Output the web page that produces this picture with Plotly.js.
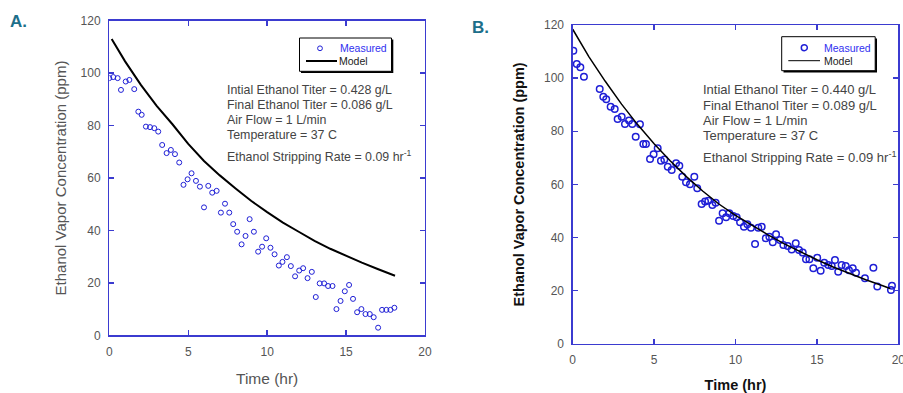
<!DOCTYPE html>
<html>
<head>
<meta charset="utf-8">
<script src="https://cdn.plot.ly/plotly-3.0.1.min.js"></script>
<style>html,body{margin:0;padding:0;background:#fff;}#chart{width:903px;height:393px;}</style>
</head>
<body>
<div id="chart"></div>
<script>
// ---- Panel A data ----
var timeA = [0, 0.25, 0.53, 0.74, 1.04, 1.27, 1.58, 1.84, 2.05, 2.32, 2.58, 2.85, 3.10, 3.35, 3.63, 3.90, 4.16, 4.43, 4.70, 4.96, 5.21, 5.49, 5.74, 6.00, 6.27, 6.52, 6.80, 7.07, 7.33, 7.60, 7.85, 8.10, 8.38, 8.63, 8.89, 9.16, 9.43, 9.68, 9.94, 10.21, 10.47, 10.74, 10.97, 11.25, 11.50, 11.77, 12.03, 12.28, 12.56, 12.83, 13.08, 13.33, 13.61, 13.86, 14.14, 14.39, 14.65, 14.92, 15.19, 15.44, 15.70, 15.97, 16.23, 16.50, 16.75, 17.03, 17.28, 17.55, 17.81, 18.06];
var measuredA = [98.1, 98.5, 98.1, 93.6, 96.8, 97.4, 93.9, 85.3, 84.1, 79.6, 79.4, 79.0, 77.7, 72.6, 69.5, 70.7, 69.1, 65.9, 57.4, 59.5, 61.8, 58.9, 56.7, 48.8, 57.0, 54.4, 55.1, 46.8, 50.2, 46.8, 42.4, 39.5, 34.7, 37.9, 44.3, 39.5, 31.9, 33.8, 37.0, 33.4, 30.9, 26.6, 28.0, 29.8, 26.4, 22.5, 24.7, 25.6, 21.8, 24.2, 14.6, 19.8, 19.8, 18.8, 18.8, 10.0, 13.1, 16.8, 19.2, 13.9, 8.8, 10.0, 8.1, 8.1, 6.9, 2.9, 9.7, 9.7, 9.7, 10.5];
var modelTimeA = [0.15, 1, 2, 3, 4, 5, 6, 7, 8, 9, 10, 11, 12, 13, 14, 15, 16, 17, 18.1];
var modelA = [113, 104.5, 95.5, 87.5, 80.5, 73, 66.5, 61, 56, 51.2, 47, 43, 39.5, 36, 33, 30.2, 27.7, 25.3, 22.7];

// ---- Panel B data ----
var timeB = [0.04, 0.25, 0.47, 0.69, 1.66, 1.88, 2.06, 2.33, 2.58, 2.76, 3.01, 3.21, 3.46, 3.66, 3.87, 4.13, 4.34, 4.50, 4.75, 4.97, 5.22, 5.42, 5.63, 5.84, 6.08, 6.35, 6.55, 6.73, 6.96, 7.20, 7.47, 7.65, 7.92, 8.13, 8.33, 8.58, 8.78, 8.99, 9.21, 9.42, 9.62, 9.86, 10.07, 10.28, 10.52, 10.73, 10.95, 11.20, 11.40, 11.61, 11.86, 12.08, 12.29, 12.49, 12.73, 12.94, 13.21, 13.45, 13.70, 13.90, 14.13, 14.33, 14.54, 14.78, 15.02, 15.23, 15.45, 15.70, 15.91, 16.11, 16.31, 16.52, 16.77, 16.97, 17.20, 17.40, 17.95, 18.47, 18.71, 19.55, 19.61];
var measuredB = [110.3, 105.3, 104.1, 100.5, 95.9, 93.0, 92.0, 89.2, 88.4, 84.6, 85.5, 82.7, 84.0, 82.7, 77.9, 82.6, 75.2, 75.2, 69.5, 71.3, 73.6, 68.9, 69.4, 66.6, 65.4, 67.9, 67.0, 62.9, 60.8, 60.0, 62.9, 58.5, 52.6, 53.5, 53.8, 52.2, 53.1, 46.3, 49.1, 47.6, 49.1, 48.1, 47.6, 45.7, 44.0, 45.0, 43.7, 37.5, 43.7, 44.0, 39.7, 40.3, 38.2, 41.2, 39.0, 37.2, 36.8, 35.5, 37.8, 35.3, 34.3, 31.8, 31.8, 28.4, 32.4, 27.5, 30.5, 29.6, 29.3, 31.5, 27.1, 29.6, 29.3, 27.7, 28.4, 26.7, 24.6, 28.6, 21.5, 20.2, 21.8];
var modelTimeB = [0, 1, 2, 3, 4, 5, 6, 7, 8, 9, 10, 11, 12, 13, 14, 15, 16, 17, 18, 19, 19.5];
var modelB = [118.4, 108, 98.8, 90.2, 82.4, 75.3, 68.8, 62.8, 57.4, 52.5, 48.3, 44.5, 41, 37.6, 34.5, 31.6, 28.9, 26.4, 24.1, 21.9, 20.8];

// ---- text ----
var infoA = ["Intial Ethanol Titer = 0.428 g/L", "Final Ethanol Titer = 0.086 g/L", "Air Flow = 1 L/min", "Temperature = 37 C", "Ethanol Stripping Rate = 0.09 hr<sup>-1</sup>"];
var infoB = ["Intial Ethanol Titer = 0.440 g/L", "Final Ethanol Titer = 0.089 g/L", "Air Flow = 1 L/min", "Temperature = 37 C", "Ethanol Stripping Rate = 0.09 hr<sup>-1</sup>"];
var xTickVals = [0, 5, 10, 15, 20];
var yTickVals = [0, 20, 40, 60, 80, 100, 120];
var xTitle = "Time (hr)";
var yTitle = "Ethanol Vapor Concentration (ppm)";

var W = 903, H = 393;
function X(px) { return px / W; }
function Y(py) { return 1 - py / H; }

var FONT = "Arial, 'Liberation Sans', sans-serif";
var AX = "#3b3bd0";
var MB = "#1f1fd6";

var traces = [
  {x: timeA, y: measuredA, type: 'scatter', mode: 'markers', xaxis: 'x', yaxis: 'y', name: 'Measured',
   marker: {symbol: 'circle-open', size: 5, color: MB, line: {width: 1, color: MB}}, showlegend: false},
  {x: modelTimeA, y: modelA, type: 'scatter', mode: 'lines', xaxis: 'x', yaxis: 'y', name: 'Model',
   line: {color: '#000', width: 2}, showlegend: false},
  {x: timeB, y: measuredB, type: 'scatter', mode: 'markers', xaxis: 'x2', yaxis: 'y2', name: 'Measured',
   marker: {symbol: 'circle-open', size: 6.5, color: MB, line: {width: 1.5, color: MB}}, showlegend: false},
  {x: modelTimeB, y: modelB, type: 'scatter', mode: 'lines', xaxis: 'x2', yaxis: 'y2', name: 'Model',
   line: {color: '#000', width: 1.5}, showlegend: false}
];

function axisCommon(extra) {
  var a = {
    showline: true, linecolor: AX, linewidth: 1.3, mirror: 'ticks',
    ticks: 'inside', ticklen: 5, tickcolor: AX, tickwidth: 1.3,
    showgrid: false, zeroline: false, fixedrange: true,
    tickfont: {family: FONT, size: 12, color: '#555'},
    ticklabelstandoff: 5, ticklabeloverflow: 'allow'
  };
  for (var k in extra) a[k] = extra[k];
  return a;
}

var annotations = [];
function addText(txt, px, py, size, color, bold) {
  annotations.push({text: bold ? '<b>' + txt + '</b>' : txt, x: X(px), y: Y(py), xref: 'paper', yref: 'paper',
    xanchor: 'left', yanchor: 'middle', showarrow: false, font: {family: FONT, size: size, color: color}});
}
addText('A.', 8, 21.5, 17, '#1d6f8a', true);
addText('B.', 470, 27.5, 17, '#1d6f8a', true);
var yA = [90.3, 105.3, 120.3, 135.3, 155.7];
for (var i = 0; i < infoA.length; i++) addText(infoA[i], 225, yA[i], 12.4, '#444', false);
var yB = [90, 105.5, 120.5, 135.7, 156.7];
for (var j = 0; j < infoB.length; j++) addText(infoB[j], 700.5, yB[j], 13, '#444', false);
// legend texts
addText('Measured', 338, 48.3, 10.5, '#3030f0', false);
addText('Model', 337, 61, 10.5, '#222', false);
addText('Measured', 822, 47.7, 10.5, '#3030f0', false);
addText('Model', 822, 60.7, 10.5, '#222', false);

function rect(x0, y0, x1, y1, fill, lw) {
  return {type: 'rect', xref: 'paper', yref: 'paper', x0: X(x0), x1: X(x1), y0: Y(y1), y1: Y(y0),
    fillcolor: fill, line: {color: '#000', width: lw}, layer: 'above'};
}
var shapes = [
  rect(301, 39.5, 393.3, 73, '#000', 0),
  rect(299.5, 38, 391.5, 71.3, '#fff', 1),
  {type: 'circle', xref: 'paper', yref: 'paper', x0: X(317.6), x1: X(322.4), y0: Y(50.7), y1: Y(45.9), line: {color: MB, width: 1}, layer: 'above'},
  {type: 'line', xref: 'paper', yref: 'paper', x0: X(306), x1: X(337), y0: Y(61), y1: Y(61), line: {color: '#000', width: 2}, layer: 'above'},
  rect(783.5, 38.5, 877, 72.5, '#000', 0),
  rect(781.7, 36.7, 875.2, 70.7, '#fff', 1),
  {type: 'circle', xref: 'paper', yref: 'paper', x0: X(801.3), x1: X(807.3), y0: Y(50.7), y1: Y(44.7), line: {color: MB, width: 1.5}, layer: 'above'},
  {type: 'line', xref: 'paper', yref: 'paper', x0: X(788.3), x1: X(820), y0: Y(60.7), y1: Y(60.7), line: {color: '#000', width: 1}, layer: 'above'}
];

var layout = {
  width: W, height: H,
  margin: {l: 0, r: 0, t: 0, b: 0},
  paper_bgcolor: '#fff', plot_bgcolor: '#fff',
  showlegend: false,
  font: {family: FONT},
  xaxis: axisCommon({domain: [X(109.3), X(425)], range: [0, 20], tickvals: xTickVals, anchor: 'y',
    title: {text: xTitle, font: {family: FONT, size: 15.5, color: '#555'}, standoff: 15}}),
  yaxis: axisCommon({domain: [Y(335.3), Y(20.7)], range: [0, 120], tickvals: yTickVals, anchor: 'x',
    title: {text: yTitle, font: {family: FONT, size: 15, color: '#555'}, standoff: 10}}),
  xaxis2: axisCommon({domain: [X(572.7), X(898.3)], range: [0, 20], tickvals: xTickVals, anchor: 'y2',
    title: {text: '<b>' + xTitle + '</b>', font: {family: FONT, size: 14.5, color: '#111'}, standoff: 14}}),
  yaxis2: axisCommon({domain: [Y(343.7), Y(25)], range: [0, 120], tickvals: yTickVals, anchor: 'x2',
    title: {text: '<b>' + yTitle + '</b>', font: {family: FONT, size: 14.5, color: '#111'}, standoff: 16}}),
  annotations: annotations,
  shapes: shapes
};

Plotly.newPlot('chart', traces, layout, {displayModeBar: false, staticPlot: true});
</script>
</body>
</html>
